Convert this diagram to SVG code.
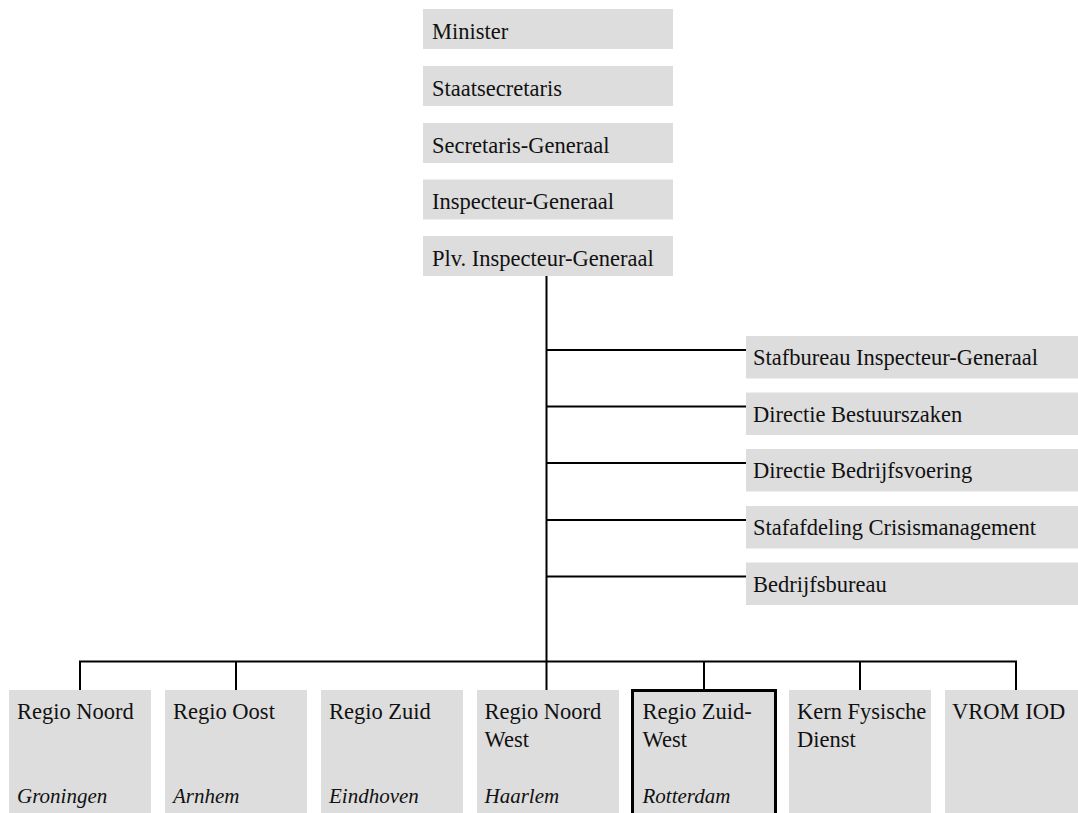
<svg xmlns="http://www.w3.org/2000/svg" width="1078" height="813" viewBox="0 0 1078 813">
<style>
.box{fill:#dddddd}
.hl{fill:#dddddd;stroke:#000;stroke-width:3}
.t{font-family:"Liberation Serif",serif;font-size:22.5px;fill:#111}
.i{font-family:"Liberation Serif",serif;font-size:21px;font-style:italic;fill:#111}
.c{stroke:#000;stroke-width:2;fill:none}
</style>
<rect width="1078" height="813" fill="#fff"/>
<g id="connectors">
<line class="c" x1="546.5" y1="276" x2="546.5" y2="690"/>
<line class="c" x1="546.5" y1="350" x2="746" y2="350"/>
<line class="c" x1="546.5" y1="406.5" x2="746" y2="406.5"/>
<line class="c" x1="546.5" y1="463" x2="746" y2="463"/>
<line class="c" x1="546.5" y1="520" x2="746" y2="520"/>
<line class="c" x1="546.5" y1="576.5" x2="746" y2="576.5"/>
<polyline class="c" points="80,690 80,661.5 1016,661.5 1016,690"/>
<line class="c" x1="236" y1="661.5" x2="236" y2="690"/>
<line class="c" x1="704" y1="661.5" x2="704" y2="690"/>
<line class="c" x1="860" y1="661.5" x2="860" y2="690"/>
</g>
<g id="minister"><rect class="box" x="423" y="9" width="250" height="40"/><text class="t" x="432" y="39">Minister</text></g>
<g id="staatsecretaris"><rect class="box" x="423" y="66" width="250" height="40"/><text class="t" x="432" y="95.5">Staatsecretaris</text></g>
<g id="secretaris-generaal"><rect class="box" x="423" y="123" width="250" height="40"/><text class="t" x="432" y="152.5">Secretaris-Generaal</text></g>
<g id="inspecteur-generaal"><rect class="box" x="423" y="179.5" width="250" height="40"/><text class="t" x="432" y="209">Inspecteur-Generaal</text></g>
<g id="plv-inspecteur-generaal"><rect class="box" x="423" y="236" width="250" height="40"/><text class="t" x="432" y="265.5">Plv. Inspecteur-Generaal</text></g>
<g id="stafbureau"><rect class="box" x="746" y="336" width="332" height="42.5"/><text class="t" x="753" y="365">Stafbureau Inspecteur-Generaal</text></g>
<g id="bestuurszaken"><rect class="box" x="746" y="392.5" width="332" height="42.5"/><text class="t" x="753" y="421.5">Directie Bestuurszaken</text></g>
<g id="bedrijfsvoering"><rect class="box" x="746" y="449" width="332" height="42.5"/><text class="t" x="753" y="478">Directie Bedrijfsvoering</text></g>
<g id="crisismanagement"><rect class="box" x="746" y="506" width="332" height="42.5"/><text class="t" x="753" y="535">Stafafdeling Crisismanagement</text></g>
<g id="bedrijfsbureau"><rect class="box" x="746" y="562.5" width="332" height="42.5"/><text class="t" x="753" y="591.5">Bedrijfsbureau</text></g>
<g id="regio-noord"><rect class="box" x="9" y="690" width="142" height="130"/><text class="t" x="17" y="719">Regio Noord</text><text class="i" x="17" y="803">Groningen</text></g>
<g id="regio-oost"><rect class="box" x="165" y="690" width="142" height="130"/><text class="t" x="173" y="719">Regio Oost</text><text class="i" x="173" y="803">Arnhem</text></g>
<g id="regio-zuid"><rect class="box" x="321" y="690" width="142" height="130"/><text class="t" x="329" y="719">Regio Zuid</text><text class="i" x="329" y="803">Eindhoven</text></g>
<g id="regio-noord-west"><rect class="box" x="477" y="690" width="142" height="130"/><text class="t" x="484.5" y="719">Regio Noord</text><text class="t" x="484.5" y="747">West</text><text class="i" x="484.5" y="803">Haarlem</text></g>
<g id="regio-zuid-west"><rect class="hl" x="632.5" y="690.5" width="143" height="130"/><text class="t" x="642.5" y="719">Regio Zuid-</text><text class="t" x="642.5" y="747">West</text><text class="i" x="642.5" y="803">Rotterdam</text></g>
<g id="kern-fysische-dienst"><rect class="box" x="789" y="690" width="142" height="130"/><text class="t" x="797" y="719">Kern Fysische</text><text class="t" x="797" y="747">Dienst</text></g>
<g id="vrom-iod"><rect class="box" x="945" y="690" width="142" height="130"/><text class="t" x="952" y="719">VROM IOD</text></g>
</svg>
